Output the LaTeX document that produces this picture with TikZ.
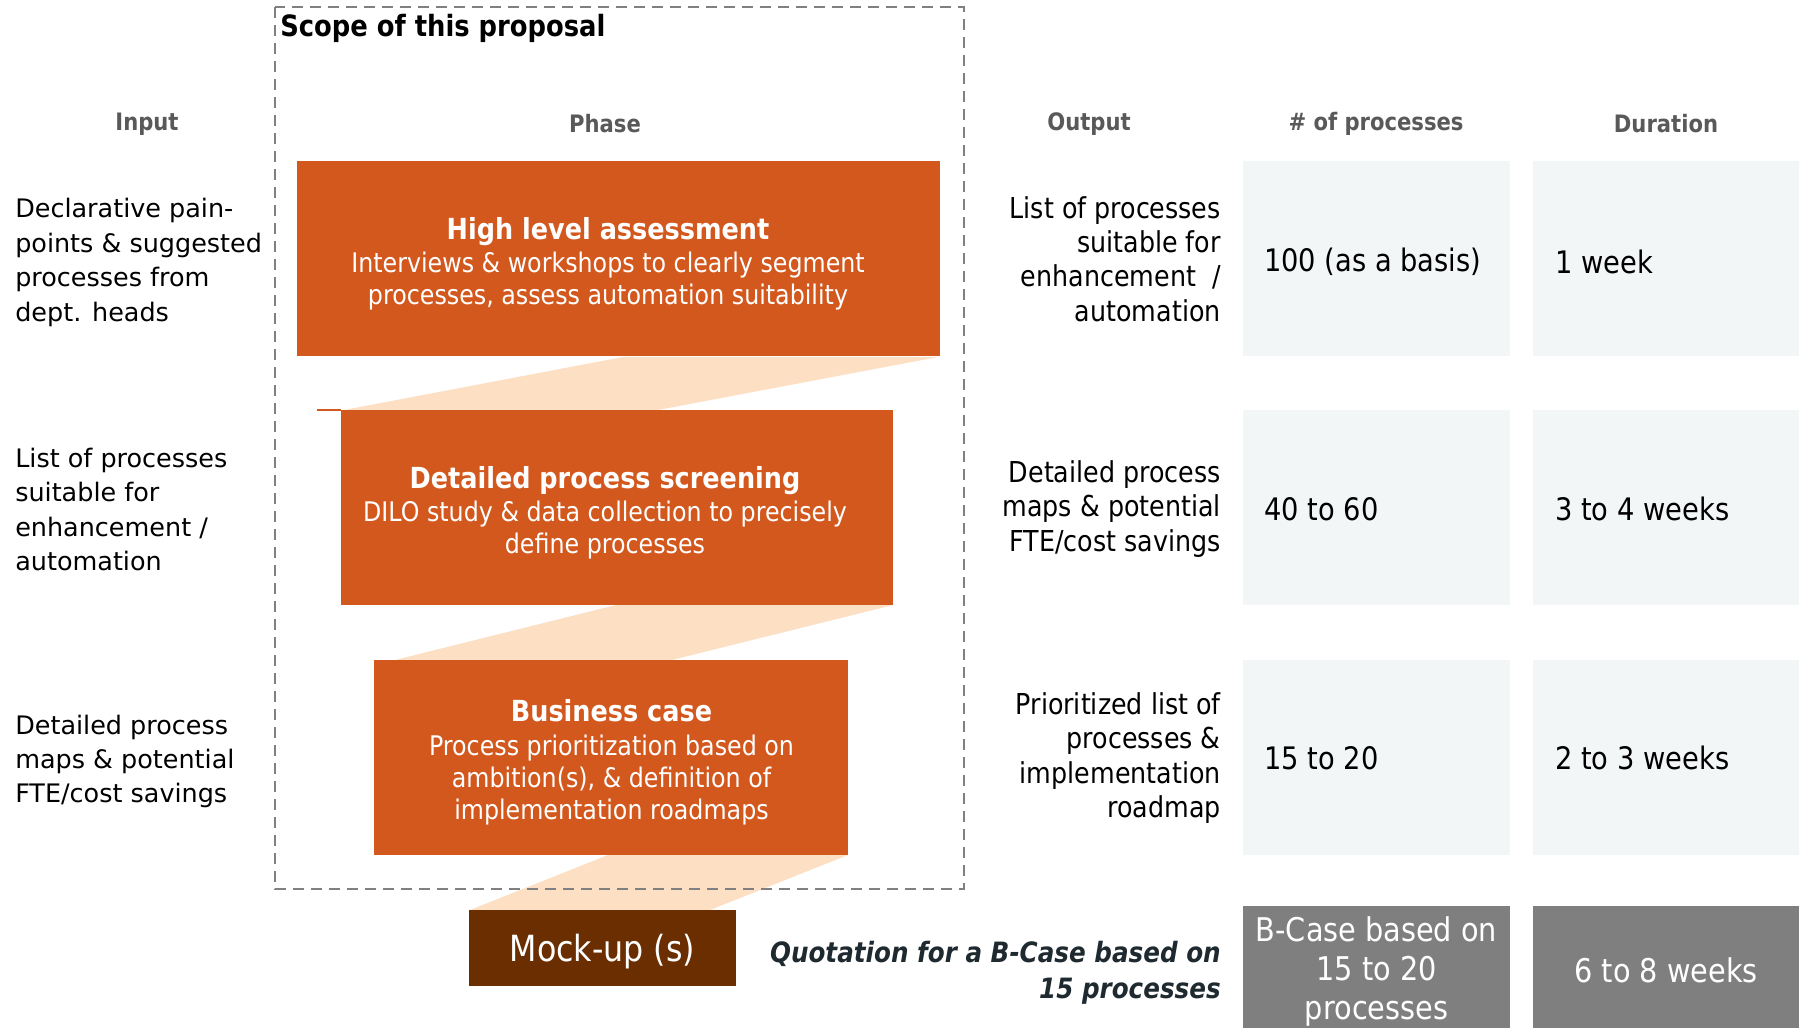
\documentclass[tikz,border=0pt]{standalone}
\usepackage{fontspec}
\setmainfont{DejaVu Sans}
\newfontfamily\cond[FakeStretch=0.88]{DejaVu Sans}
\definecolor{phaseorange}{RGB}{211,88,29}
\definecolor{peach}{RGB}{253,223,196}
\definecolor{mockbrown}{RGB}{107,46,0}
\definecolor{celllight}{RGB}{243,246,247}
\definecolor{celldark}{RGB}{127,127,128}
\definecolor{dashgrey}{RGB}{128,128,128}
\definecolor{headgrey}{RGB}{89,89,89}
\definecolor{quotecol}{RGB}{31,42,48}
\tikzset{
  phasebox/.style={fill=phaseorange, draw=none, inner sep=0pt, minimum height=146.25pt},
  cellbox/.style={fill=celllight, draw=none, inner sep=0pt, minimum width=200pt, minimum height=146.25pt},
  darkcell/.style={fill=celldark, draw=none, inner sep=0pt, minimum width=200pt, minimum height=91.5pt},
  header/.style={text=headgrey, font=\cond\bfseries\fontsize{18}{21}\selectfont, inner sep=0pt},
  inputtext/.style={anchor=west, align=left, inner sep=0pt, font=\fontsize{19.1}{25.8}\selectfont},
  outputtext/.style={anchor=east, align=right, inner sep=0pt, font=\cond\fontsize{21.6}{25.8}\selectfont},
  celltext/.style={anchor=west, inner sep=0pt, font=\cond\fontsize{23.25}{28}\selectfont},
  titletext/.style={text=white, inner sep=0pt, font=\cond\bfseries\fontsize{21.75}{26}\selectfont},
  subtext/.style={text=white, align=center, inner sep=0pt, font=\cond\fontsize{20.25}{24}\selectfont},
  funnel/.style={fill=peach, draw=none},
  dashbox/.style={draw=dashgrey, line width=1.8pt, dash pattern=on 8pt off 5.5pt}
}
\begin{document}
\begin{tikzpicture}[x=0.75pt,y=-0.75pt]
\useasboundingbox (0,0) rectangle (1799,1028);
\fill[white] (0,0) rectangle (1799,1028);

% funnel links between phases
\fill[funnel] (623,357) -- (938,357) -- (658,410) -- (344,410) -- cycle;
\fill[funnel] (616,605) -- (893,605) -- (672,660) -- (395,660) -- cycle;
\fill[funnel] (608,855) -- (848,855) -- (710,910) -- (470,910) -- cycle;

% scope frame
\draw[dashbox] (275,7) rectangle (964,889);
\node[anchor=west, inner sep=0pt, font=\cond\bfseries\fontsize{22}{26}\selectfont] (scope) at (280,28) {Scope of this proposal};

% headers
\node[header] (hinput) at (147,124) {Input};
\node[header] (hphase) at (605,124) {Phase};
\node[header] (houtput) at (1089,124) {Output};
\node[header] (hnum) at (1376,124) {\# of processes};
\node[header] (hdur) at (1666,124) {Duration};

% phase boxes
\node[phasebox, minimum width=482.25pt] (box1) at (618.5,258.5) {};
\node[phasebox, minimum width=414pt] (box2) at (617,507.5) {};
\node[phasebox, minimum width=355.5pt] (box3) at (611,757.5) {};
\fill[phaseorange] (317,408.6) rectangle (341,410.5);
\node[fill=mockbrown, inner sep=0pt, minimum width=200.25pt, minimum height=57pt] (mock) at (602.5,948) {};
\node[text=white, inner sep=0pt, font=\cond\fontsize{27}{30}\selectfont] (mocktext) at (602.5,951.5) {Mock-up (s)};

\node[titletext] (t1) at (608,231.5) {High level assessment};
\node[subtext] (s1) at (608,281.5) {Interviews \& workshops to clearly segment\\processes, assess automation suitability};
\node[titletext] (t2) at (605,480.5) {Detailed process screening};
\node[subtext] (s2) at (605,530.5) {DILO study \& data collection to precisely\\define processes};
\node[titletext] (t3) at (611.5,710.5) {Business case};
\node[subtext] (s3) at (611.5,780.5) {Process prioritization based on\\ambition(s), \& definition of\\implementation roadmaps};

% inputs
\node[inputtext] (in1) at (15,262.5) {Declarative pain-\\points \& suggested\\processes from\\dept. heads};
\node[inputtext] (in2) at (15,509.5) {List of processes\\suitable for\\enhancement /\\automation};
\node[inputtext] (in3) at (15,761.5) {Detailed process\\maps \& potential\\FTE/cost savings};

% outputs
\node[outputtext] (out1) at (1221,259) {List of processes\\suitable for\\enhancement~~/\\automation};
\node[outputtext] (out2) at (1221,509) {Detailed process\\maps \& potential\\FTE/cost savings};
\node[outputtext] (out3) at (1221,758) {Prioritized list of\\processes \&\\implementation\\roadmap};
\node[anchor=east, align=right, inner sep=0pt, text=quotecol, font=\cond\bfseries\itshape\fontsize{21}{26.7}\selectfont] (quote) at (1221,972.5) {Quotation for a B-Case based on\\15 processes};

% cells
\node[cellbox] (c11) at (1376.5,258.5) {};
\node[cellbox] (c12) at (1666,258.5) {};
\node[cellbox] (c21) at (1376.5,507.5) {};
\node[cellbox] (c22) at (1666,507.5) {};
\node[cellbox] (c31) at (1376.5,757) {};
\node[cellbox] (c32) at (1666,757) {};
\node[celltext] (v11) at (1264,261.5) {100 (as a basis)};
\node[celltext] (v12) at (1555,261.5) {1 week};
\node[celltext] (v21) at (1264,509) {40 to 60};
\node[celltext] (v22) at (1555,509) {3 to 4 weeks};
\node[celltext] (v31) at (1264,758) {15 to 20};
\node[celltext] (v32) at (1555,758) {2 to 3 weeks};

\node[darkcell] (c41) at (1376.5,967) {};
\node[text=white, align=center, inner sep=0pt, font=\cond\fontsize{24.5}{29}\selectfont] (c41t) at (1376.5,971.5) {B-Case based on\\15 to 20\\processes};
\node[darkcell] (c42) at (1666,967) {};
\node[text=white, inner sep=0pt, font=\cond\fontsize{24.5}{29}\selectfont] (c42t) at (1666,970) {6 to 8 weeks};
\end{tikzpicture}
\end{document}
